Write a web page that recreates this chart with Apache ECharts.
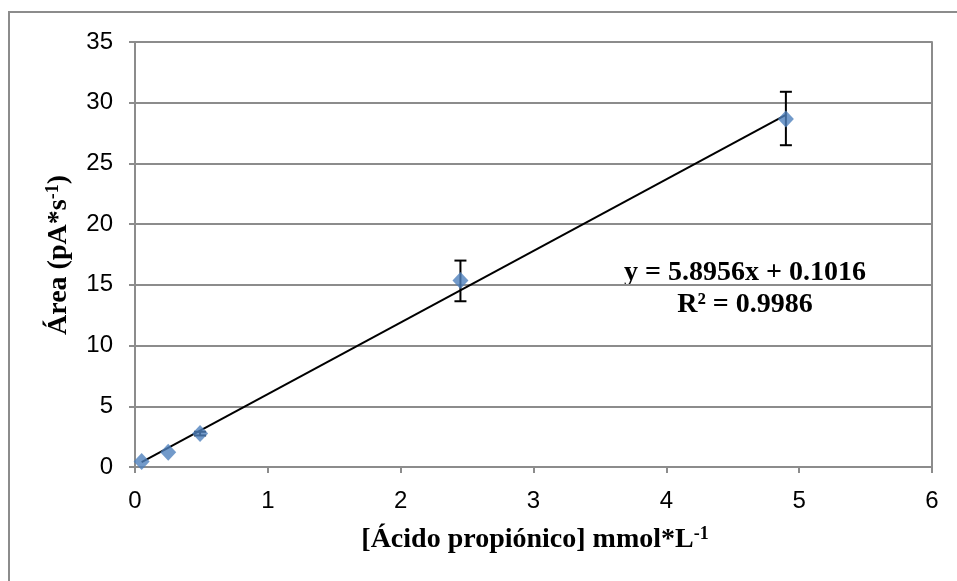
<!DOCTYPE html>
<html><head><meta charset="utf-8">
<script src="https://cdn.jsdelivr.net/npm/echarts@6/dist/echarts.min.js"></script>
<style>html,body{margin:0;padding:0;background:#fff}#c{width:957px;height:581px}</style>
</head><body><div id="c"></div>
<script>
const xValues = [0.05, 0.25, 0.49, 2.45, 4.9];
const yValues = [0.45, 1.22, 2.75, 15.35, 28.65];
const errLow  = [0.45, 1.22, 2.6, 13.65, 26.5];
const errHigh = [0.45, 1.22, 2.9, 17.0, 30.9];
const slope = 5.8956, intercept = 0.1016;
const trendX = [0.05, 4.9];
const eqText = 'y = 5.8956x + 0.1016';
const r2Text = 'R² = 0.9986';

const pts = xValues.map((x,i)=>[x, yValues[i]]);
const errData = xValues.map((x,i)=>[x, errLow[i], errHigh[i]]);
const trend = trendX.map(x=>[x, slope*x+intercept]);

const chart = echarts.init(document.getElementById('c'));
const axisCol = '#8c8c8c';
const serif = '"Liberation Serif", "Times New Roman", serif';
chart.setOption({
  animation:false,
  grid:{left:135,right:25,top:42,bottom:114},
  xAxis:{type:'value',min:0,max:6,interval:1,
    axisLine:{show:true,onZero:false,lineStyle:{color:axisCol,width:2}},
    axisTick:{show:true,inside:false,length:6,lineStyle:{color:axisCol,width:2}},
    axisLabel:{fontFamily:'Liberation Sans, Arial',fontSize:24,color:'#000',margin:22},
    splitLine:{show:false}},
  yAxis:[{type:'value',min:0,max:35,interval:5,
    axisLine:{show:true,lineStyle:{color:axisCol,width:2}},
    axisTick:{show:true,length:6,lineStyle:{color:axisCol,width:2}},
    axisLabel:{fontFamily:'Liberation Sans, Arial',fontSize:24,color:'#000',margin:22},
    splitLine:{show:true,lineStyle:{color:axisCol,width:2}}},
   {type:'value',min:0,max:35,interval:5,position:'right',
    axisLine:{show:true,lineStyle:{color:axisCol,width:2}},
    axisTick:{show:false},axisLabel:{show:false},splitLine:{show:false}}],
  series:[
    {type:'line',data:trend,symbol:'none',lineStyle:{color:'#000',width:2},z:2},
    {type:'custom',data:errData,z:3,
     renderItem:function(params,api){
       const x=api.value(0);
       const lo=api.coord([x,api.value(1)]);
       const hi=api.coord([x,api.value(2)]);
       const w=6;
       if(Math.abs(lo[1]-hi[1])<1) return {type:'group',children:[]};
       const st={stroke:'#000',lineWidth:2};
       return {type:'group',children:[
         {type:'line',shape:{x1:lo[0],y1:lo[1],x2:hi[0],y2:hi[1]},style:st},
         {type:'line',shape:{x1:lo[0]-w,y1:lo[1],x2:lo[0]+w,y2:lo[1]},style:st},
         {type:'line',shape:{x1:hi[0]-w,y1:hi[1],x2:hi[0]+w,y2:hi[1]},style:st}
       ]};
     }},
    {type:'scatter',data:pts,symbol:'diamond',symbolSize:[16,17],
     itemStyle:{color:'#4F81BD'},z:4}
  ],
  graphic:[
    {type:'rect',shape:{x:9,y:12,width:1000,height:700},style:{fill:'none',stroke:'#8c8c8c',lineWidth:2},z:-1},
    {type:'text',x:745,y:273,style:{text:eqText,font:'bold 28px '+serif,fill:'#000',textAlign:'center',textVerticalAlign:'middle'}},
    {type:'text',x:745,y:305,style:{text:r2Text,font:'bold 28px '+serif,fill:'#000',textAlign:'center',textVerticalAlign:'middle'}},
    {type:'text',x:535,y:540,style:{
      text:'{n|[Ácido propiónico] mmol*L}{s|-1}',
      rich:{n:{font:'bold 28px '+serif,fill:'#000'},
            s:{font:'bold 18px '+serif,fill:'#000',verticalAlign:'top',padding:[0,0,12,0]}},
      textAlign:'center',textVerticalAlign:'middle'}},
    {type:'text',x:59,y:255,rotation:Math.PI/2,style:{
      text:'{n|Área (pA*s}{s|-1}{n|)}',
      rich:{n:{font:'bold 28px '+serif,fill:'#000'},
            s:{font:'bold 18px '+serif,fill:'#000',padding:[0,0,12,0]}},
      textAlign:'center',textVerticalAlign:'middle'}}
  ]
});
</script></body></html>
